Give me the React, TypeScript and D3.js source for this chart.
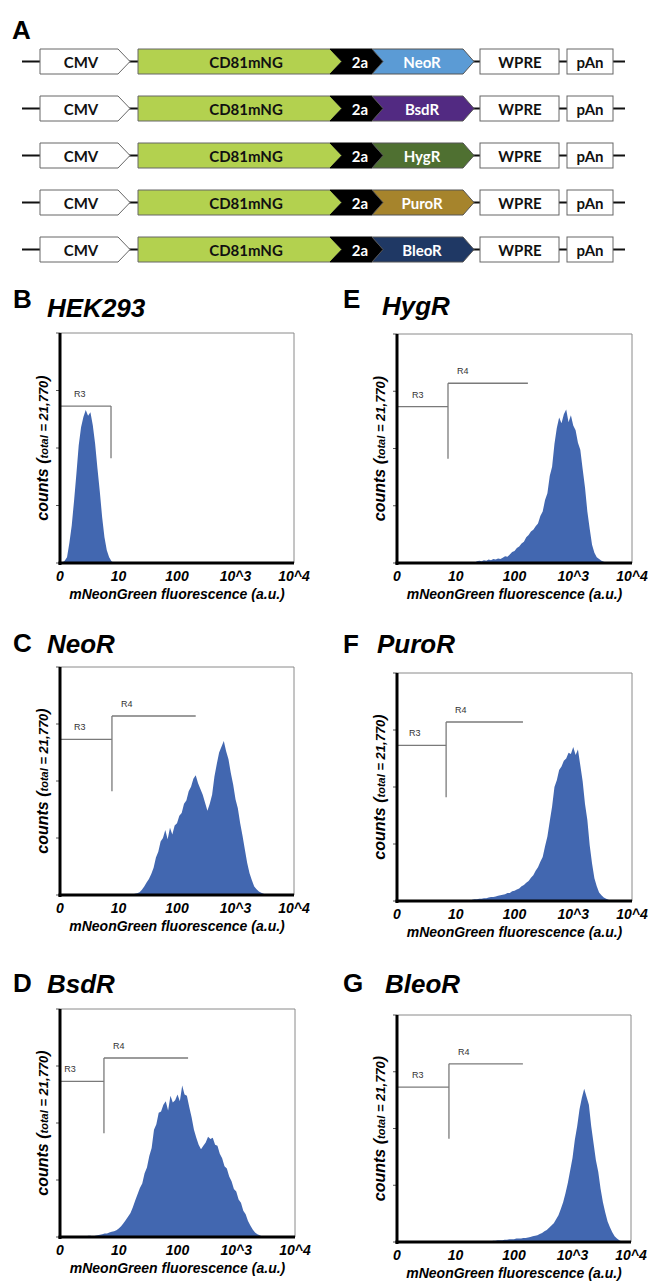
import React from "react";
import * as d3 from "d3";

// panel A: expression constructs
const resistance = ["NeoR", "BsdR", "HygR", "PuroR", "BleoR"];
const resistanceColor = ["#5b9bd5", "#522a82", "#4f7031", "#a6842c", "#1f3864"];

// flow panels B-G
const panelLetter = ["B", "C", "D", "E", "F", "G"];
const panelTitle = ["HEK293", "NeoR", "BsdR", "HygR", "PuroR", "BleoR"];
const tickLabels = ["0", "10", "100", "10^3", "10^4"];
const tickChannels = [0, 25, 50, 75, 100];
const countTicks = [0, 100, 200, 300, 400];

// histograms: first channel, then counts per channel (25 channels / decade)
const hekStart = 0;
const hekCounts = [0, 1, 4, 10, 35, 65, 108, 155, 205, 236, 254, 266, 256, 262, 240, 208, 165, 125, 80, 45, 22, 10, 3, 0];

const neoStart = 30;
const neoCounts = [
  0, 1, 2, 3, 5, 9, 15, 22, 28, 37,
  48, 66, 76, 94, 100, 114, 98, 118, 106, 122,
  126, 139, 144, 160, 166, 182, 190, 204, 210, 196,
  186, 176, 162, 148, 160, 176, 208, 230, 250, 260,
  270, 252, 238, 214, 194, 168, 152, 126, 104, 80,
  56, 38, 26, 15, 10, 6, 4, 2, 1, 0,
];

const bsdStart = 10;
const bsdCounts = [
  0, 1, 2, 2, 1, 2, 3, 4, 5, 6,
  6, 8, 9, 10, 12, 15, 19, 24, 30, 36,
  42, 52, 64, 75, 86, 94, 112, 122, 142, 156,
  188, 198, 218, 220, 232, 238, 222, 248, 236, 240,
  250, 238, 266, 250, 248, 228, 210, 188, 174, 162,
  154, 160, 166, 176, 172, 174, 162, 160, 146, 138,
  124, 120, 106, 98, 84, 80, 66, 60, 46, 40,
  28, 20, 13, 8, 5, 3, 1, 0,
];

const hygStart = 33;
const hygCounts = [
  0, 3, 4, 3, 5, 4, 6, 5, 7, 6,
  8, 7, 9, 12, 11, 15, 19, 21, 26, 29,
  34, 37, 45, 49, 55, 58, 64, 69, 82, 90,
  110, 122, 152, 168, 208, 236, 254, 244, 260, 268,
  246, 258, 240, 232, 210, 198, 164, 132, 90, 60,
  32, 18, 10, 7, 4, 2, 1, 0,
];

const puroStart = 31;
const puroCounts = [
  0, 2, 3, 3, 4, 4, 5, 5, 6, 7,
  7, 8, 9, 10, 11, 12, 14, 14, 17, 18,
  20, 22, 26, 28, 32, 35, 41, 45, 53, 59,
  69, 77, 96, 113, 140, 166, 200, 212, 230, 236,
  246, 250, 260, 258, 270, 256, 266, 238, 210, 170,
  142, 98, 66, 40, 26, 15, 10, 6, 4, 2, 0,
];

const bleoStart = 40;
const bleoCounts = [
  0, 2, 2, 3, 3, 3, 4, 4, 5, 5,
  5, 6, 6, 6, 7, 7, 8, 9, 10, 11,
  12, 14, 16, 19, 21, 25, 29, 33, 40, 47,
  58, 70, 86, 104, 126, 148, 180, 204, 234, 254,
  270, 256, 242, 204, 174, 144, 124, 94, 70, 52,
  36, 26, 17, 10, 6, 3, 1, 0,
];

const histStart = [hekStart, neoStart, bsdStart, hygStart, puroStart, bleoStart];
const histCounts = [hekCounts, neoCounts, bsdCounts, hygCounts, puroCounts, bleoCounts];

// gates: channel of the R3/R4 split, channel where R4 stops (null = no R4), R3 label channel
const gateSplit = [21.8, 22.2, 18.7, 21.7, 20.9, 22.2];
const gateR4End = [null, 58, 54.5, 55.7, 53.6, 53.8];
const r3LabelCh = [6, 6, 1.8, 6.4, 5.1, 6.4];
const r3Level = 273;
const r4Level = 314;
const gateFloor = 182;

// layout of the six plot frames
const frames = [
  { x0: 60, y0: 333, x1: 294, y1: 563, lx: 13, ly: 308, tx: 47, ty: 317 },
  { x0: 60, y0: 667, x1: 294, y1: 895, lx: 13, ly: 652, tx: 47, ty: 653 },
  { x0: 60, y0: 1009, x1: 295, y1: 1237, lx: 13, ly: 992, tx: 47, ty: 993 },
  { x0: 397, y0: 334, x1: 632, y1: 563, lx: 343, ly: 308, tx: 382, ty: 315 },
  { x0: 397, y0: 673, x1: 632, y1: 901, lx: 343, ly: 653, tx: 377, ty: 653 },
  { x0: 397, y0: 1015, x1: 631, y1: 1242, lx: 343, ly: 992, tx: 385, ty: 993 },
];

const ARIAL = "'Liberation Sans', Arial, sans-serif";
const CAL = "Lato, 'Open Sans', sans-serif";
const HIST = "#4267b0";

const rowY = [61.5, 108.5, 155.5, 202.5, 249.5];

function Construct({ cy, idx }: { cy: number; idx: number }) {
  const h = 25;
  const t = cy - h / 2;
  const b = cy + h / 2;
  const poly = (pts: number[][]) => pts.map((p) => p.join(",")).join(" ");
  const ty = cy + 6;
  return (
    <g>
      <line x1={22} x2={625} y1={cy} y2={cy} stroke="#111" strokeWidth={2} />
      <polygon points={poly([[40, t], [118, t], [130, cy], [118, b], [40, b]])} fill="#fff" stroke="#666" />
      <polygon points={poly([[138, t], [330, t], [342, cy], [330, b], [138, b]])} fill="#b3d14f" stroke="#666" />
      <polygon points={poly([[330, t], [372, t], [383, cy], [372, b], [330, b], [342, cy]])} fill="#000" stroke="#000" />
      <polygon
        points={poly([[372, t], [463, t], [474, cy], [463, b], [372, b], [383, cy]])}
        fill={resistanceColor[idx]}
        stroke="#555"
      />
      <rect x={480} y={t} width={79} height={h} fill="#fff" stroke="#666" />
      <rect x={567} y={t} width={46} height={h} fill="#fff" stroke="#666" />
      <g fontFamily={CAL} fontWeight="bold" fontSize={15} textAnchor="middle">
        <text x={81} y={ty} fill="#111">CMV</text>
        <text x={246} y={ty} fill="#111">CD81mNG</text>
        <text x={360} y={ty} fill="#fff">2a</text>
        <text x={422} y={ty} fill="#fff">{resistance[idx]}</text>
        <text x={520} y={ty} fill="#111">WPRE</text>
        <text x={590} y={ty} fill="#111">pAn</text>
      </g>
    </g>
  );
}

function Histogram({ i }: { i: number }) {
  const f = frames[i];
  const x = d3.scaleLinear().domain([0, 100]).range([f.x0, f.x1]);
  const y = d3.scaleLinear().domain([0, 400]).range([f.y1, f.y0]);
  const data = histCounts[i].map((c, k) => ({ ch: histStart[i] + k, c }));
  const area = d3
    .area<{ ch: number; c: number }>()
    .x((d) => x(d.ch))
    .y0(y(0))
    .y1((d) => y(d.c))
    .curve(d3.curveLinear);
  const split = x(gateSplit[i]);
  const r4End = gateR4End[i];
  const gate = "#7a7a7a";
  const midY = (f.y0 + f.y1) / 2;
  return (
    <g>
      <text x={f.lx} y={f.ly} fontFamily={ARIAL} fontWeight="bold" fontSize={26}>
        {panelLetter[i]}
      </text>
      <text x={f.tx} y={f.ty} fontFamily={ARIAL} fontWeight="bold" fontStyle="italic" fontSize={26}>
        {panelTitle[i]}
      </text>
      {/* frame */}
      <line x1={f.x0} x2={f.x1} y1={f.y0} y2={f.y0} stroke="#8a8a8a" strokeWidth={1} />
      <line x1={f.x1} x2={f.x1} y1={f.y0} y2={f.y1} stroke="#8a8a8a" strokeWidth={1} />
      {countTicks.map((c) => (
        <line key={c} x1={f.x0 - 4} x2={f.x0} y1={y(c)} y2={y(c)} stroke="#555" strokeWidth={1} />
      ))}
      <path d={area(data) || ""} fill={HIST} />
      {/* gates */}
      <g stroke={gate} strokeWidth={1.3} fill="none">
        <line x1={f.x0} x2={split} y1={y(r3Level)} y2={y(r3Level)} />
        <line x1={split} x2={split} y1={y(r4End == null ? r3Level : r4Level)} y2={y(gateFloor)} />
        {r4End != null && <line x1={split} x2={x(r4End)} y1={y(r4Level)} y2={y(r4Level)} />}
      </g>
      <g fontFamily={ARIAL} fontSize={9} fill="#333">
        <text x={x(r3LabelCh[i])} y={y(r3Level) - 9}>R3</text>
        {r4End != null && <text x={split + 9} y={y(r4Level) - 9}>R4</text>}
      </g>
      <line x1={f.x0} x2={f.x0} y1={f.y0} y2={f.y1 + 2} stroke="#000" strokeWidth={3} />
      <line x1={f.x0 - 1.5} x2={f.x1} y1={f.y1} y2={f.y1} stroke="#000" strokeWidth={3} />
      <g fontFamily={ARIAL} fontWeight="bold" fontStyle="italic" fontSize={14} textAnchor="middle" fill="#000">
        {tickChannels.map((c, k) => (
          <text key={c} x={x(c)} y={f.y1 + 18}>
            {tickLabels[k]}
          </text>
        ))}
        <text x={(f.x0 + f.x1) / 2} y={f.y1 + 36}>
          mNeonGreen fluorescence (a.u.)
        </text>
        <text transform={`translate(${f.x0 - 12},${midY}) rotate(-90)`}>
          <tspan fontSize={16}>counts (</tspan>
          <tspan fontSize={11}>total</tspan>
          <tspan fontSize={13}> = 21,770</tspan>
          <tspan fontSize={16}>)</tspan>
        </text>
      </g>
    </g>
  );
}

export default function App() {
  return (
    <svg width={649} height={1281} style={{ position: "absolute", left: 0, top: 0, background: "#fff" }}>
      <text x={12} y={39} fontFamily={ARIAL} fontWeight="bold" fontSize={26}>
        A
      </text>
      {rowY.map((cy, i) => (
        <Construct key={i} cy={cy} idx={i} />
      ))}
      {frames.map((_, i) => (
        <Histogram key={i} i={i} />
      ))}
    </svg>
  );
}
